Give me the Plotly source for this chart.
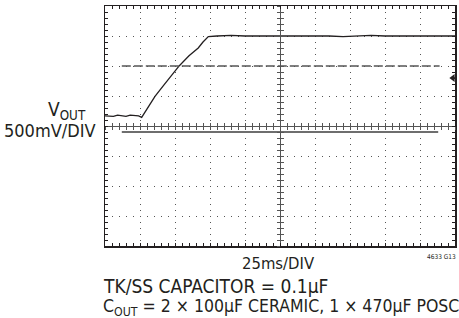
import plotly.graph_objects as go

# ---- data (time in ms, voltage in V on a 500mV/div, 25ms/div screen) ----
time_ms = [0, 3, 6, 9, 12, 15, 18, 21, 24, 26.2, 30, 35.7, 42, 48, 53.1, 60, 66.6, 70,
           73.8, 80, 90, 100, 110, 120, 130, 140, 150, 160, 170, 180, 190, 200,
           210, 220, 230, 240, 250]
vout_v = [2.17, 2.17, 2.16, 2.18, 2.17, 2.16, 2.18, 2.17, 2.17, 2.145, 2.29, 2.495, 2.68,
          2.85, 3.005, 3.17, 3.30, 3.40, 3.49, 3.50, 3.51, 3.50, 3.50, 3.51, 3.50,
          3.50, 3.51, 3.50, 3.49, 3.50, 3.51, 3.50, 3.50, 3.50, 3.51, 3.50, 3.50]

ref_dash_ms = [12, 239]
ref_dash_v = [3.0, 3.0]
gray_line_ms = [12, 238]
gray_line_v = [1.9, 1.9]
marker_ms = [248.5]
marker_v = [2.8]

X_RANGE = [0, 250]
Y_RANGE = [0, 4]
X_DIV, Y_DIV = 25, 0.5

INK = "#231f20"
FONT = "DejaVu Sans Condensed, sans-serif"

fig = go.Figure()
fig.add_trace(go.Scatter(x=time_ms, y=vout_v, mode="lines",
                         line=dict(color=INK, width=1.3), xaxis="x", yaxis="y"))
fig.add_trace(go.Scatter(x=ref_dash_ms, y=ref_dash_v, mode="lines",
                         line=dict(color="#555555", width=1.5, dash="9px,3px"),
                         xaxis="x2", yaxis="y"))
fig.add_trace(go.Scatter(x=gray_line_ms, y=gray_line_v, mode="lines",
                         line=dict(color="#6e6e6e", width=2), xaxis="x3", yaxis="y"))
fig.add_trace(go.Scatter(x=marker_ms, y=marker_v, mode="markers",
                         marker=dict(symbol="triangle-left", size=7, color=INK),
                         xaxis="x", yaxis="y2"))
fig.add_trace(go.Scatter(x=[marker_ms[0], X_RANGE[1]], y=[marker_v[0], marker_v[0]], mode="lines",
                         line=dict(color=INK, width=1.5), xaxis="x", yaxis="y3"))

base_x = dict(range=X_RANGE, dtick=X_DIV, tick0=0, showticklabels=False, zeroline=False,
              fixedrange=True, automargin=False)
base_y = dict(range=Y_RANGE, dtick=Y_DIV, tick0=0, showticklabels=False, zeroline=False,
              fixedrange=True, automargin=False)

fig.update_layout(
    width=459, height=318, autosize=False,
    margin=dict(l=105, r=4, t=6, b=72, pad=0),
    paper_bgcolor="white", plot_bgcolor="white",
    showlegend=False, hovermode=False,
    xaxis=dict(**base_x, showline=True, linecolor=INK, linewidth=1.5, mirror="ticks",
               ticks="inside", ticklen=3, tickcolor=INK, tickwidth=1,
               showgrid=True, gridcolor="#555555", gridwidth=1, griddash="1px,5px",
               minor=dict(dtick=X_DIV / 5, ticks="inside", ticklen=3, tickcolor=INK,
                          tickwidth=1, showgrid=False)),
    yaxis=dict(**base_y, showline=True, linecolor=INK, linewidth=1.5, mirror="ticks",
               ticks="inside", ticklen=3, tickcolor=INK, tickwidth=1,
               showgrid=True, gridcolor="#555555", gridwidth=1, griddash="1px,6px",
               minor=dict(dtick=Y_DIV / 5, ticks="inside", ticklen=3, tickcolor=INK,
                          tickwidth=1, showgrid=False)),
    xaxis2=dict(**base_x, overlaying="x", anchor="free", position=0.5, showline=True,
                linecolor="#555555", linewidth=1, ticks="inside", ticklen=3,
                tickcolor="#555555", showgrid=False,
                minor=dict(dtick=X_DIV / 5, ticks="inside", ticklen=3, tickcolor="#555555")),
    xaxis3=dict(**base_x, overlaying="x", anchor="free", position=0.5, showline=False,
                ticks="outside", ticklen=3, tickcolor="#555555", showgrid=False,
                minor=dict(dtick=X_DIV / 5, ticks="outside", ticklen=3, tickcolor="#555555")),
    yaxis2=dict(**base_y, overlaying="y", anchor="free", position=0.5, showline=True,
                linecolor="#555555", linewidth=1, ticks="inside", ticklen=3,
                tickcolor="#555555", showgrid=False,
                minor=dict(dtick=Y_DIV / 5, ticks="inside", ticklen=3, tickcolor="#555555")),
    yaxis3=dict(**base_y, overlaying="y", anchor="free", position=0.5, showline=False,
                ticks="outside", ticklen=3, tickcolor="#555555", showgrid=False,
                minor=dict(dtick=Y_DIV / 5, ticks="outside", ticklen=3, tickcolor="#555555")),
)

L, R, T, B = 105, 455, 6, 246


def px(x):
    return (x - L) / (R - L)


def py(y):
    return (B - y) / (B - T)


def note(text, x, y, xanchor, size, yanchor="middle"):
    fig.add_annotation(text=text, x=px(x), y=py(y), xref="paper", yref="paper",
                       xanchor=xanchor, yanchor=yanchor, showarrow=False,
                       font=dict(family=FONT, size=size, color=INK))


note("V<sub>OUT</sub>", 88, 110, "right", 19)
note("500mV/DIV", 98, 130, "right", 18)
note("25ms/DIV", 278, 263, "center", 16.5)
note("4633 G13", 458, 257, "right", 6.5)
note("TK/SS CAPACITOR = 0.1µF", 101, 286, "left", 19)
note("C<sub>OUT</sub> = 2 × 100µF CERAMIC, 1 × 470µF POSCAP", 101, 307, "left", 17.5)

fig.write_html("out.html", config={"displayModeBar": False, "staticPlot": True},
               post_script="document.body.style.margin='0';")
